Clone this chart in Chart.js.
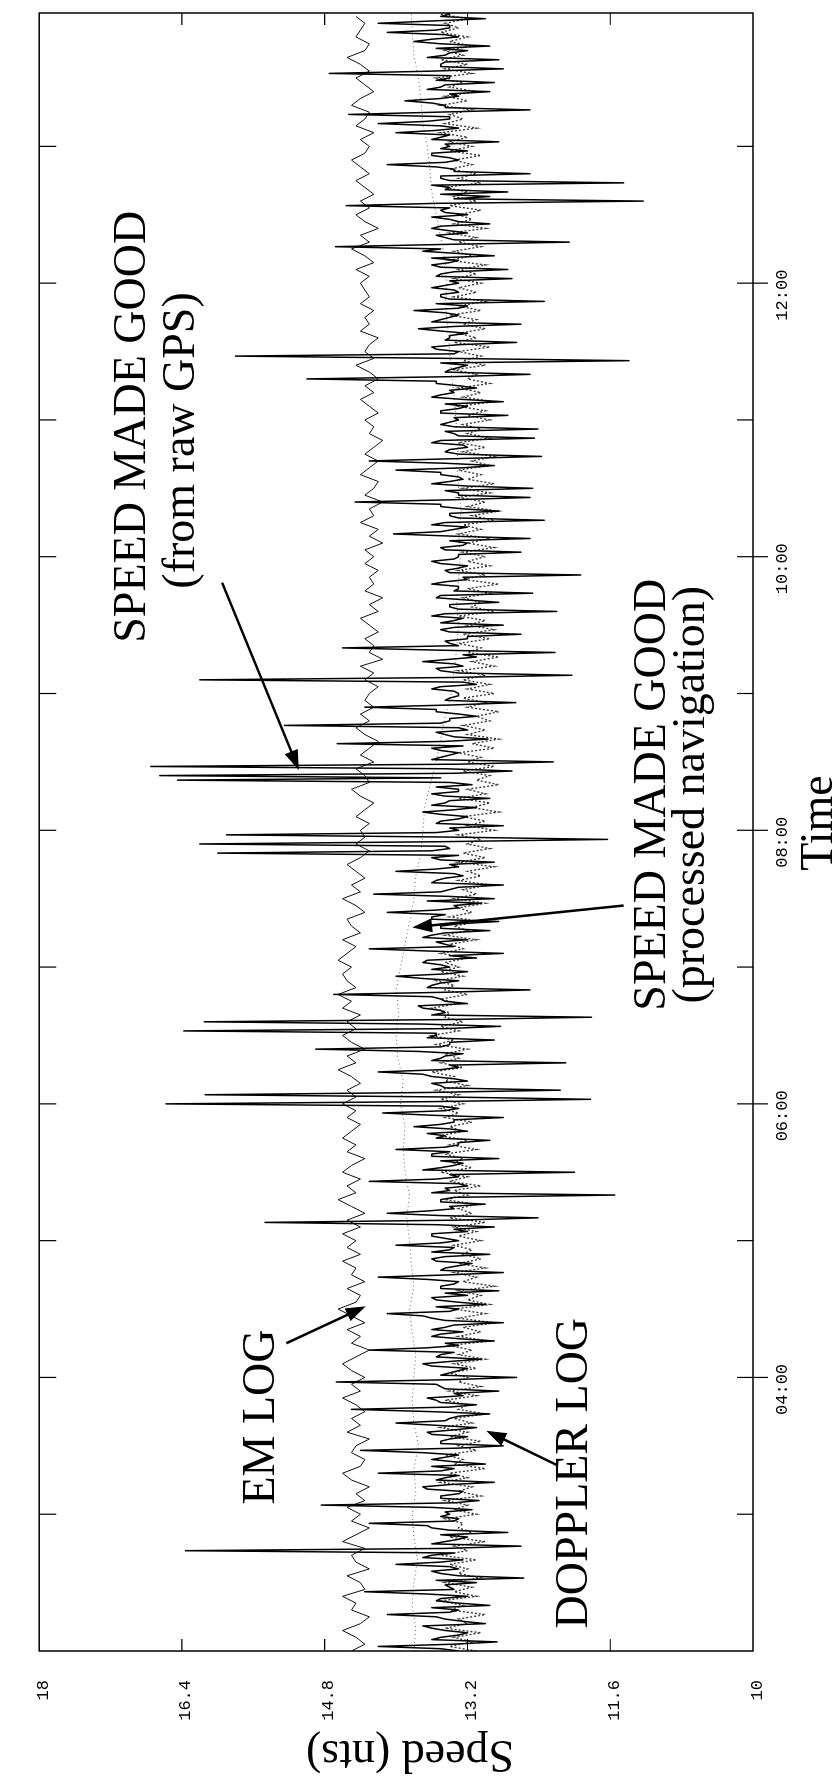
<!DOCTYPE html>
<html>
<head>
<meta charset="utf-8">
<script src="https://cdn.jsdelivr.net/npm/chart.js@4/dist/chart.umd.min.js"></script>
<style>
  html, body { margin: 0; padding: 0; background: #fff; }
  body { width: 839px; height: 1776px; overflow: hidden; position: relative; }
  /* chart is drawn landscape and turned a quarter turn to the left */
  #wrap { position: absolute; left: 0; top: 0; width: 1776px; height: 839px;
          transform-origin: 0 0; transform: translate(0px, 1776px) rotate(-90deg); }
</style>
</head>
<body>
<div id="wrap"><canvas id="c" width="1776" height="839"></canvas></div>
<script>
// time in hours, samples start at 02:00
const startHour = 2;
const gpsStep = 2 / 60;      // raw GPS and doppler: every 2 min (raw GPS has a mid sample too)
const emStep = 3 / 60;       // EM log: every 3 min
const navStep = 10 / 60;     // processed navigation: every 10 min

const hourTicks = [3, 4, 5, 6, 7, 8, 9, 10, 11, 12, 13];
const timeLabels = ['04:00', '06:00', '08:00', '10:00', '12:00'];
const labelHours = [4, 6, 8, 10, 12];
const speedTicks = [10, 11.6, 13.2, 14.8, 16.4, 18];
const speedLabels = ['10', '11.6', '13.2', '14.8', '16.4', '18'];

// speed made good from raw GPS (knots), on the even minutes
const gpsRaw = [
  13.3, 14.2, 12.87, 13.5, 13.2, 13.6, 13.0, 13.45, 14.1, 13.3, 12.95, 13.55, 13.2, 14.35, 13.4, 13.1, 12.57, 13.5, 13.3, 14.0, 13.25, 13.6, 16.36, 12.6, 13.45, 13.2, 12.75, 13.6, 14.3, 13.3,
  13.4, 13.15, 14.84, 13.07, 13.5, 13.25, 13.7, 12.9, 13.45, 14.2, 13.35, 13.0, 13.6, 13.3, 14.4, 12.8, 13.5, 13.2, 13.65, 13.1, 14.0, 13.4, 12.95, 14.5, 13.1, 13.55, 13.25, 12.85, 13.5, 14.67,
  12.65, 13.4, 13.2, 13.7, 13.05, 13.5, 14.3, 13.3, 12.9, 13.6, 13.25, 13.45, 12.8, 13.6, 14.1, 13.3, 13.0, 13.55, 13.2, 12.85, 13.5, 13.3, 14.2, 12.8, 13.45, 13.15, 13.6, 12.95, 13.4, 14.0,
  13.3, 13.6, 13.2, 12.9, 15.47, 12.41, 14.1, 13.35, 13.0, 13.5, 11.55, 13.4, 13.2, 14.3, 13.3, 12.0, 13.5, 13.25, 12.85, 13.6, 14.0, 13.3, 12.95, 13.45, 13.2, 13.8, 13.35, 12.8, 14.15, 13.3,
  16.58, 11.82, 16.14, 12.16, 13.5, 13.2, 13.6, 14.2, 13.3, 12.1, 13.5, 13.25, 14.9, 13.4, 12.9, 13.55, 16.38, 12.83, 16.15, 11.81, 13.45, 13.7, 13.2, 13.5, 14.7, 12.5, 13.6, 13.3, 14.0, 13.2,
  13.4, 13.7, 13.1, 12.8, 14.3, 13.45, 13.2, 13.6, 12.95, 13.5, 12.85, 13.6, 14.1, 13.3, 13.05, 12.9, 14.25, 13.4, 12.8, 13.55, 13.25, 14.0, 13.3, 12.9, 13.6, 16.0, 13.4, 16.2, 11.63, 15.9,
  13.3, 12.8, 13.5, 13.2, 13.7, 13.1, 13.45, 12.95, 13.6, 13.3, 13.15, 16.45, 16.65, 12.7, 16.75, 12.24, 13.5, 13.3, 13.6, 14.66, 12.97, 13.45, 13.2, 15.25, 13.4, 13.1, 13.55, 14.35, 12.66, 13.4,
  13.3, 13.6, 13.1, 16.2, 12.03, 13.5, 13.25, 13.7, 13.1, 12.22, 14.6, 13.4, 13.2, 12.6, 13.5, 12.8, 13.35, 13.6, 12.2, 13.4, 12.85, 13.55, 12.47, 13.3, 13.6, 13.2, 11.93, 13.45, 13.2, 13.6,
  13.3, 12.6, 13.5, 13.2, 12.5, 14.03, 13.35, 13.6, 12.34, 13.4, 12.85, 13.5, 14.46, 12.5, 13.3, 12.47, 13.6, 13.25, 13.5, 14.0, 12.9, 14.3, 12.37, 13.45, 13.2, 13.6, 12.45, 13.35, 12.41, 13.5,
  13.3, 12.75, 13.5, 13.2, 12.8, 13.6, 13.35, 13.1, 13.55, 15.0, 12.5, 13.4, 13.2, 11.39, 15.8, 13.3, 13.6, 12.65, 13.4, 13.2, 13.75, 12.6, 13.5, 13.3, 13.8, 13.2, 12.34, 13.5, 13.3, 13.6,
  13.3, 12.7, 13.5, 12.75, 13.6, 13.3, 12.9, 13.7, 14.68, 12.06, 13.45, 13.2, 13.6, 12.95, 13.4, 13.2, 13.5, 14.56, 11.23, 12.95, 12.75, 13.4, 11.45, 13.5, 12.5, 13.35, 14.1, 13.3, 13.6, 13.2,
  13.4, 12.85, 13.5, 14.0, 13.3, 14.2, 13.4, 14.53, 12.5, 13.45, 13.9, 13.3, 12.95, 13.5, 12.9, 13.4, 14.75, 12.8, 13.5, 12.85, 13.45, 13.2, 12.95, 13.8, 13.3, 14.1, 13.4, 14.2, 13.0, 13.4
];

// raw GPS on the odd minutes
const gpsMid = [
  13.5, 13.35, 13.6, 13.3, 13.45, 13.7, 13.25, 13.55, 13.4, 13.6, 13.3, 13.5, 13.65, 13.35, 13.45, 13.55, 13.3, 13.6, 13.4, 13.5, 13.7, 13.35, 13.45, 13.6, 13.3, 13.5, 13.4, 13.65, 13.35, 13.5,
  13.45, 13.6, 13.35, 13.5, 13.3, 13.65, 13.4, 13.55, 13.3, 13.5, 13.6, 13.35, 13.45, 13.7, 13.3, 13.5, 13.4, 13.6, 13.35, 13.55, 13.45, 13.3, 13.6, 13.4, 13.5, 13.65, 13.35, 13.45, 13.55, 13.4,
  13.5, 13.3, 13.6, 13.4, 13.55, 13.35, 13.65, 13.45, 13.3, 13.5, 13.6, 13.35, 13.45, 13.7, 13.4, 13.55, 13.3, 13.6, 13.45, 13.5, 13.35, 13.65, 13.4, 13.5, 13.3, 13.55, 13.45, 13.6, 13.35, 13.5,
  13.45, 13.6, 13.35, 13.55, 13.3, 13.5, 13.65, 13.4, 13.5, 13.35, 13.6, 13.45, 13.3, 13.55, 13.4, 13.7, 13.35, 13.5, 13.6, 13.4, 13.45, 13.3, 13.55, 13.65, 13.4, 13.5, 13.35, 13.6, 13.45, 13.5,
  13.55, 13.4, 13.65, 13.45, 13.6, 13.35, 13.7, 13.5, 13.4, 13.6, 13.45, 13.75, 13.5, 13.4, 13.65, 13.55, 13.45, 13.7, 13.4, 13.6, 13.5, 13.75, 13.45, 13.6, 13.4, 13.65, 13.5, 13.7, 13.45, 13.6,
  13.5, 13.65, 13.4, 13.6, 13.35, 13.55, 13.7, 13.45, 13.5, 13.3, 13.6, 13.45, 13.55, 13.35, 13.65, 13.4, 13.5, 13.3, 13.6, 13.45, 13.35, 13.55, 13.4, 13.5, 13.3, 13.6, 13.45, 13.5, 13.35, 13.55,
  13.4, 13.55, 13.3, 13.5, 13.35, 13.6, 13.4, 13.45, 13.3, 13.55, 13.4, 13.5, 13.35, 13.45, 13.3, 13.6, 13.4, 13.5, 13.25, 13.45, 13.35, 13.55, 13.3, 13.5, 13.4, 13.3, 13.55, 13.35, 13.45, 13.3,
  13.35, 13.5, 13.25, 13.45, 13.3, 13.55, 13.35, 13.4, 13.25, 13.5, 13.3, 13.45, 13.2, 13.4, 13.35, 13.5, 13.25, 13.45, 13.3, 13.4, 13.2, 13.5, 13.35, 13.3, 13.45, 13.25, 13.4, 13.3, 13.5, 13.35,
  13.3, 13.45, 13.25, 13.4, 13.35, 13.5, 13.2, 13.45, 13.3, 13.4, 13.25, 13.5, 13.35, 13.3, 13.45, 13.2, 13.4, 13.3, 13.5, 13.25, 13.45, 13.35, 13.3, 13.4, 13.25, 13.5, 13.3, 13.45, 13.35, 13.4,
  13.35, 13.5, 13.3, 13.45, 13.25, 13.5, 13.4, 13.3, 13.55, 13.35, 13.45, 13.3, 13.5, 13.4, 13.35, 13.55, 13.3, 13.45, 13.4, 13.5, 13.35, 13.6, 13.4, 13.45, 13.3, 13.55, 13.4, 13.5, 13.35, 13.45,
  13.4, 13.55, 13.35, 13.5, 13.4, 13.6, 13.3, 13.5, 13.45, 13.35, 13.55, 13.4, 13.5, 13.3, 13.6, 13.45, 13.4, 13.55, 13.35, 13.5, 13.45, 13.6, 13.4, 13.5, 13.35, 13.55, 13.45, 13.4, 13.6, 13.5,
  13.45, 13.6, 13.4, 13.55, 13.5, 13.65, 13.4, 13.55, 13.45, 13.6, 13.5, 13.4, 13.65, 13.45, 13.55, 13.4, 13.6, 13.5, 13.45, 13.65, 13.4, 13.55, 13.5, 13.6, 13.45, 13.55, 13.4, 13.6, 13.5, 13.45
];

// doppler log (knots)
const doppler = [
  13.1, 13.4, 13.15, 13.35, 13.05, 13.45, 13.2, 13.3, 13.0, 13.4, 13.25, 13.5, 13.1, 13.35, 13.15, 13.45, 13.05, 13.3, 13.2, 13.4, 13.1, 13.5, 13.2, 13.35, 13.0, 13.4, 13.15, 13.3, 13.25, 13.45,
  13.1, 13.35, 13.2, 13.45, 13.05, 13.3, 13.15, 13.5, 13.2, 13.4, 13.0, 13.35, 13.25, 13.45, 13.1, 13.3, 13.05, 13.4, 13.2, 13.5, 13.15, 13.35, 13.0, 13.3, 13.2, 13.45, 13.1, 13.4, 13.05, 13.3,
  13.2, 13.4, 13.1, 13.35, 13.0, 13.3, 13.15, 13.4, 12.95, 13.3, 13.05, 13.25, 12.9, 13.3, 13.0, 13.35, 12.95, 13.2, 13.05, 13.3, 12.9, 13.25, 13.1, 13.35, 13.0, 13.3, 13.05, 13.25, 13.15, 13.35,
  13.05, 13.3, 13.1, 13.35, 13.0, 13.4, 13.15, 13.3, 13.1, 13.45, 13.2, 13.35, 13.05, 13.4, 13.2, 13.5, 13.15, 13.35, 13.25, 13.45, 13.1, 13.4, 13.2, 13.5, 13.25, 13.4, 13.15, 13.45, 13.3, 13.5,
  13.25, 13.5, 13.3, 13.55, 13.2, 13.45, 13.35, 13.6, 13.25, 13.5, 13.3, 13.45, 13.2, 13.55, 13.35, 13.6, 13.3, 13.5, 13.25, 13.45, 13.4, 13.6, 13.3, 13.5, 13.2, 13.45, 13.35, 13.55, 13.25, 13.5,
  13.3, 13.45, 13.2, 13.5, 13.25, 13.4, 13.1, 13.45, 13.2, 13.35, 13.05, 13.4, 13.15, 13.3, 13.0, 13.35, 13.1, 13.25, 12.95, 13.3, 13.05, 13.2, 12.9, 13.3, 13.0, 13.25, 12.95, 13.2, 13.05, 13.3,
  12.9, 13.2, 13.0, 13.25, 12.85, 13.15, 12.95, 13.3, 13.0, 13.2, 12.85, 13.1, 12.95, 13.25, 12.9, 13.2, 13.05, 13.3, 12.9, 13.15, 12.85, 13.2, 13.0, 13.25, 12.95, 13.1, 12.85, 13.2, 13.0, 13.25,
  12.9, 13.2, 12.95, 13.25, 13.0, 13.3, 12.9, 13.15, 12.85, 13.2, 13.05, 13.3, 12.95, 13.25, 12.9, 13.2, 13.0, 13.3, 12.9, 13.15, 13.05, 13.25, 12.95, 13.2, 12.85, 13.25, 13.0, 13.3, 12.95, 13.2,
  13.0, 13.25, 12.9, 13.2, 12.95, 13.3, 13.05, 13.25, 12.9, 13.15, 12.85, 13.2, 13.0, 13.3, 12.95, 13.25, 12.9, 13.2, 13.05, 13.3, 12.95, 13.15, 12.9, 13.25, 13.0, 13.3, 12.95, 13.2, 13.05, 13.25,
  12.95, 13.2, 13.0, 13.3, 12.9, 13.25, 13.05, 13.3, 12.95, 13.2, 13.1, 13.35, 13.0, 13.25, 13.05, 13.3, 12.95, 13.35, 13.1, 13.3, 13.0, 13.25, 13.1, 13.4, 13.05, 13.3, 13.0, 13.35, 13.1, 13.3,
  13.05, 13.35, 13.1, 13.3, 13.0, 13.4, 13.15, 13.35, 13.05, 13.3, 13.1, 13.4, 13.0, 13.35, 13.15, 13.3, 13.05, 13.4, 13.1, 13.35, 13.2, 13.45, 13.05, 13.3, 13.1, 13.4, 13.15, 13.35, 13.05, 13.4,
  13.15, 13.4, 13.2, 13.5, 13.1, 13.45, 13.25, 13.4, 13.15, 13.5, 13.2, 13.45, 13.1, 13.4, 13.25, 13.55, 13.15, 13.45, 13.2, 13.5, 13.25, 13.45, 13.15, 13.4, 13.2, 13.5, 13.3, 13.45, 13.2, 13.5
];

// EM log (knots)
const emLog = [
  14.5, 14.35, 14.45, 14.6, 14.4, 14.3, 14.5, 14.45, 14.6, 14.35, 14.4, 14.55, 14.3, 14.45, 14.5, 14.35, 14.6, 14.45, 14.3, 14.5,
  14.4, 14.55, 14.35, 14.45, 14.3, 14.5, 14.6, 14.4, 14.35, 14.5, 14.45, 14.3, 14.55, 14.4, 14.5, 14.35, 14.45, 14.6, 14.4, 14.5,
  14.35, 14.5, 14.6, 14.45, 14.3, 14.5, 14.4, 14.55, 14.35, 14.5, 14.65, 14.45, 14.4, 14.55, 14.35, 14.5, 14.45, 14.6, 14.4, 14.55,
  14.45, 14.6, 14.4, 14.55, 14.35, 14.5, 14.65, 14.45, 14.55, 14.4, 14.6, 14.5, 14.35, 14.55, 14.45, 14.6, 14.5, 14.4, 14.55, 14.45,
  14.6, 14.45, 14.55, 14.4, 14.5, 14.65, 14.45, 14.55, 14.35, 14.5, 14.6, 14.45, 14.55, 14.4, 14.6, 14.5, 14.65, 14.45, 14.55, 14.6,
  14.5, 14.65, 14.55, 14.45, 14.6, 14.4, 14.5, 14.55, 14.35, 14.45, 14.6, 14.4, 14.5, 14.35, 14.45, 14.55, 14.4, 14.3, 14.45, 14.35,
  14.4, 14.3, 14.45, 14.35, 14.25, 14.4, 14.5, 14.3, 14.35, 14.45, 14.25, 14.4, 14.3, 14.2, 14.35, 14.45, 14.3, 14.4, 14.25, 14.35,
  14.3, 14.2, 14.35, 14.25, 14.4, 14.15, 14.3, 14.25, 14.35, 14.2, 14.3, 14.4, 14.2, 14.3, 14.15, 14.35, 14.25, 14.3, 14.2, 14.35,
  14.25, 14.35, 14.15, 14.3, 14.2, 14.4, 14.25, 14.3, 14.15, 14.35, 14.25, 14.2, 14.4, 14.3, 14.2, 14.35, 14.25, 14.15, 14.3, 14.25,
  14.35, 14.2, 14.3, 14.4, 14.25, 14.35, 14.2, 14.3, 14.45, 14.25, 14.35, 14.3, 14.2, 14.4, 14.3, 14.35, 14.25, 14.4, 14.3, 14.35,
  14.4, 14.3, 14.45, 14.25, 14.35, 14.5, 14.3, 14.4, 14.2, 14.35, 14.45, 14.3, 14.4, 14.25, 14.35, 14.45, 14.3, 14.4, 14.5, 14.35,
  14.3, 14.4, 14.25, 14.45, 14.35, 14.3, 14.5, 14.4, 14.25, 14.35, 14.45, 14.3, 14.4, 14.55, 14.35, 14.3, 14.45, 14.4, 14.35, 14.45
];

// speed made good, processed navigation (knots)
const navSpeed = [
  13.8, 13.78, 13.82, 13.8, 13.76, 13.8,
  13.82, 13.78, 13.8, 13.75, 13.8, 13.82,
  13.8, 13.78, 13.82, 13.85, 13.8, 13.83,
  13.85, 13.88, 13.85, 13.9, 13.92, 13.9,
  13.95, 13.92, 13.98, 14.0, 13.97, 14.0,
  13.95, 13.9, 13.85, 13.8, 13.78, 13.72,
  13.7, 13.68, 13.62, 13.55, 13.5, 13.45,
  13.38, 13.35, 13.32, 13.3, 13.32, 13.3,
  13.28, 13.3, 13.27, 13.3, 13.32, 13.3,
  13.33, 13.35, 13.38, 13.4, 13.42, 13.45,
  13.43, 13.45, 13.5, 13.55, 13.6, 13.62,
  13.65, 13.7, 13.72, 13.75, 13.8, 13.82, 13.83
];

function toPoints(values, step) {
  return values.map((v, i) => ({ x: startHour + i * step, y: v }));
}

const gpsPoints = [];
gpsRaw.forEach((v, i) => {
  gpsPoints.push({ x: startHour + i * gpsStep, y: v });
  gpsPoints.push({ x: startHour + (i + 0.5) * gpsStep, y: gpsMid[i] });
});

function arrow(ctx, x1, y1, x2, y2) {
  const a = Math.atan2(y2 - y1, x2 - x1);
  const len = 20, half = 7;
  ctx.beginPath();
  ctx.lineWidth = 2.5;
  ctx.moveTo(x1, y1);
  ctx.lineTo(x2 - Math.cos(a) * len * 0.8, y2 - Math.sin(a) * len * 0.8);
  ctx.stroke();
  ctx.beginPath();
  ctx.moveTo(x2, y2);
  ctx.lineTo(x2 - Math.cos(a) * len - Math.sin(a) * half, y2 - Math.sin(a) * len + Math.cos(a) * half);
  ctx.lineTo(x2 - Math.cos(a) * len + Math.sin(a) * half, y2 - Math.sin(a) * len - Math.cos(a) * half);
  ctx.closePath();
  ctx.fill();
}

// text notes in (time, speed)
const notes = [
  { text: 'SPEED MADE GOOD', t: 10.95, v: 16.95 },
  { text: '(from raw GPS)', t: 10.85, v: 16.4 },
  { text: 'SPEED MADE GOOD', t: 8.26, v: 11.12 },
  { text: '(processed navigation)', t: 8.26, v: 10.68 },
  { text: 'EM LOG', t: 3.71, v: 15.5 },
  { text: 'DOPPLER LOG', t: 3.3, v: 12.0 }
];
const pointers = [
  [9.81, 15.95, 8.44, 15.09],
  [7.45, 11.45, 7.29, 13.82],
  [4.25, 15.23, 4.52, 14.34],
  [3.36, 12.2, 3.61, 12.99]
];

const framePlugin = {
  id: 'frame',
  afterDraw(chart) {
    const { ctx, chartArea: a, scales: { x, y } } = chart;
    ctx.save();
    ctx.strokeStyle = '#000';
    ctx.fillStyle = '#000';
    ctx.lineWidth = 1.5;
    ctx.strokeRect(a.left, a.top, a.right - a.left, a.bottom - a.top);

    ctx.lineWidth = 1.2;
    ctx.beginPath();
    hourTicks.forEach(h => {
      const px = x.getPixelForValue(h);
      const out = labelHours.includes(h) ? 15 : 0;
      ctx.moveTo(px, a.bottom - 16);
      ctx.lineTo(px, a.bottom + out);
      ctx.moveTo(px, a.top);
      ctx.lineTo(px, a.top + 17);
    });
    speedTicks.slice(1, -1).forEach(v => {
      const py = y.getPixelForValue(v);
      ctx.moveTo(a.left, py);
      ctx.lineTo(a.left + 12, py);
      ctx.moveTo(a.right - 12, py);
      ctx.lineTo(a.right, py);
    });
    ctx.stroke();

    ctx.font = '46px "Liberation Serif", "Times New Roman", serif';
    ctx.textAlign = 'center';
    ctx.textBaseline = 'middle';
    notes.forEach(n => ctx.fillText(n.text, x.getPixelForValue(n.t), y.getPixelForValue(n.v)));
    pointers.forEach(p => arrow(ctx, x.getPixelForValue(p[0]), y.getPixelForValue(p[1]),
                                     x.getPixelForValue(p[2]), y.getPixelForValue(p[3])));

    ctx.fillText('Time', (a.left + a.right) / 2 + 9, a.bottom + 67);
    ctx.translate(23, 410);
    ctx.rotate(-Math.PI / 2);
    ctx.fillText('Speed (nts)', 0, 0);
    ctx.restore();
  }
};

const tickFont = { family: '"Liberation Mono", "DejaVu Sans Mono", monospace', size: 17 };

new Chart(document.getElementById('c'), {
  type: 'line',
  data: {
    datasets: [
      { label: 'Speed made good (raw GPS)', data: gpsPoints,
        borderColor: '#000', borderWidth: 1.5, borderJoinStyle: 'round' },
      { label: 'EM log', data: toPoints(emLog, emStep),
        borderColor: '#111', borderWidth: 1 },
      { label: 'Doppler log', data: toPoints(doppler, gpsStep),
        borderColor: '#3a3a3a', borderWidth: 1.4, borderDash: [2, 2] },
      { label: 'Speed made good (processed navigation)', data: toPoints(navSpeed, navStep),
        borderColor: '#666', borderWidth: 1, borderDash: [1, 3] }
    ]
  },
  options: {
    responsive: false,
    devicePixelRatio: 1,
    animation: false,
    elements: { point: { radius: 0 }, line: { tension: 0 } },
    layout: { autoPadding: false, padding: { top: 14, right: 13, left: 0, bottom: 0 } },
    plugins: { legend: { display: false }, tooltip: { enabled: false } },
    scales: {
      x: {
        type: 'linear', min: 2, max: 13.975,
        grid: { display: false, drawTicks: false },
        border: { display: false },
        afterBuildTicks: axis => { axis.ticks = hourTicks.map(v => ({ value: v })); },
        afterFit: axis => { axis.height = 86; },
        ticks: {
          autoSkip: false, maxRotation: 0, padding: 19, labelOffset: -12,
          color: '#000', font: tickFont,
          callback: v => { const k = labelHours.indexOf(v); return k < 0 ? '' : timeLabels[k]; }
        }
      },
      y: {
        min: 10, max: 18,
        grid: { display: false, drawTicks: false },
        border: { display: false },
        afterBuildTicks: axis => { axis.ticks = speedTicks.map(v => ({ value: v })); },
        afterFit: axis => { axis.width = 125; },
        ticks: {
          autoSkip: false, padding: 29, labelOffset: 4,
          color: '#000', font: tickFont,
          callback: v => speedLabels[speedTicks.indexOf(v)]
        }
      }
    }
  },
  plugins: [framePlugin]
});
</script>
</body>
</html>
